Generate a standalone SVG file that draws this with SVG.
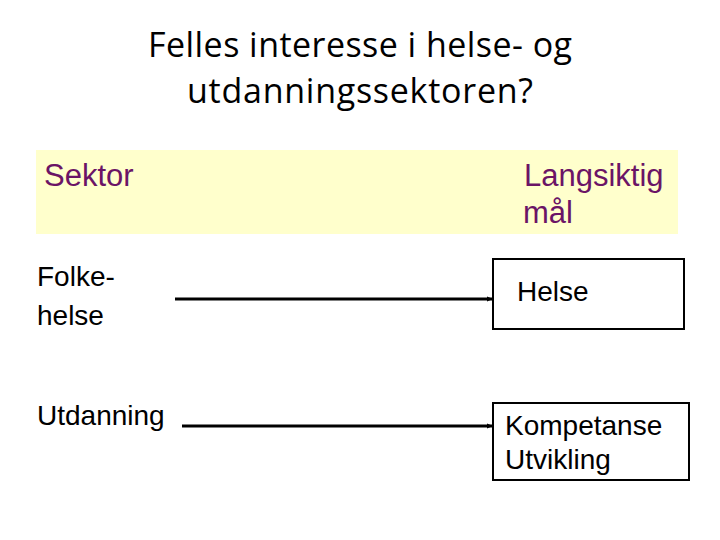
<svg xmlns="http://www.w3.org/2000/svg" width="720" height="540" viewBox="0 0 720 540">
<style>
.title{font-family:"Open Sans","Liberation Sans",sans-serif;font-size:34px;fill:#000}
.hdr{font-family:"Liberation Sans",Arial,sans-serif;font-size:31px;fill:#6B1466}
.lbl{font-family:"Liberation Sans",Arial,sans-serif;font-size:28px;fill:#000}
.box{fill:#fff;stroke:#000;stroke-width:2}
.conn{stroke:#000;stroke-width:3;fill:none}
</style>
<defs>
<marker id="ah" markerWidth="6" markerHeight="6" refX="5" refY="3" orient="auto" markerUnits="userSpaceOnUse">
<path d="M0,0.5 L6,3 L0,5.5 Z" fill="#000"/>
</marker>
</defs>
<rect width="720" height="540" fill="#fff"/>
<g id="title">
<text class="title" x="360" y="57" text-anchor="middle" textLength="424">Felles interesse i helse- og</text>
<text class="title" x="360" y="103" text-anchor="middle" textLength="346">utdanningssektoren?</text>
</g>
<g id="header">
<rect x="36" y="150" width="642" height="84" fill="#FFFFCC"/>
<text class="hdr" x="44" y="186">Sektor</text>
<text class="hdr" x="524" y="186">Langsiktig</text>
<text class="hdr" x="523" y="223">mål</text>
</g>
<g id="folkehelse">
<text class="lbl" x="37" y="286">Folke-</text>
<text class="lbl" x="37" y="325">helse</text>
</g>
<g id="helse">
<rect class="box" x="493" y="259" width="191" height="70"/>
<text class="lbl" x="517" y="301">Helse</text>
</g>
<g id="utdanning">
<text class="lbl" x="37" y="425">Utdanning</text>
</g>
<g id="kompetanse">
<rect class="box" x="493" y="403" width="196" height="77"/>
<text class="lbl" x="505" y="435">Kompetanse</text>
<text class="lbl" x="505" y="469">Utvikling</text>
</g>
<g id="connectors">
<line class="conn" x1="175" y1="299" x2="492" y2="299" marker-end="url(#ah)"/>
<line class="conn" x1="182" y1="426" x2="492" y2="426" marker-end="url(#ah)"/>
</g>
</svg>
